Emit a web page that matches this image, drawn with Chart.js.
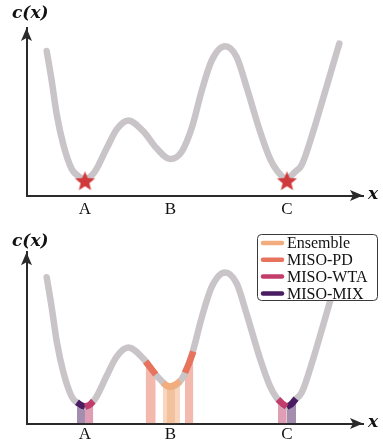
<!DOCTYPE html>
<html>
<head>
<meta charset="utf-8">
<script src="https://cdn.jsdelivr.net/npm/chart.js@4.4.1/dist/chart.umd.min.js"></script>
<style>
  html, body { margin: 0; padding: 0; background: #fff; }
  .panel { position: relative; width: 383px; height: 224px; }
</style>
</head>
<body>
<div class="panel"><canvas id="topChart"></canvas></div>
<div class="panel"><canvas id="bottomChart"></canvas></div>
<script>
// cost landscape c(x) (x: 0..10 along axis, y: 0..10 up the axis)
const CURVE_X = [0.600, 0.749, 0.897, 1.094, 1.343, 1.540, 1.738, 1.940, 2.086, 2.383, 2.681, 3.025,
                 3.471, 3.869, 4.264, 4.612, 4.909, 5.207, 5.504, 5.899, 6.247, 6.544, 6.939, 7.236,
                 7.437, 7.732, 7.979, 8.178, 8.523, 8.820, 9.117, 9.296];
const CURVE_Y = [8.63, 6.85, 4.86, 3.04, 1.59, 1.17, 1.00, 1.21, 1.61, 2.82, 3.95, 4.48,
                 3.83, 2.82, 2.18, 2.62, 4.03, 6.25, 8.06, 8.91, 8.26, 6.45, 3.84, 2.21,
                 1.51, 1.00, 1.41, 1.83, 3.84, 5.84, 7.86, 9.07];

// x tick labels (minima)
const TICK_LABELS = ['A', 'B', 'C'];
const TICK_POS = [1.738, 4.28, 7.74];

// global minima (stars, top panel)
const STAR_X = [1.738, 7.74];
const STAR_Y = [0.83, 0.83];

// methods
const METHODS = ['Ensemble', 'MISO-PD', 'MISO-WTA', 'MISO-MIX'];
const METHOD_COLORS = ['#f2ad7e', '#e8735c', '#c23d6b', '#4a1d62'];

// predicted regions per method: each one is a short stretch of the curve
const ENSEMBLE_REGIONS = [
  [[4.056, 2.40], [4.16, 2.24], [4.264, 2.18], [4.413, 2.28]],
  [[4.175, 2.23], [4.264, 2.18], [4.40, 2.27], [4.562, 2.50]]
];
const PD_REGIONS = [
  [[3.542, 3.66], [3.69, 3.28], [3.84, 2.89]],
  [[4.710, 3.00], [4.83, 3.55], [4.957, 4.25]]
];
const WTA_REGIONS = [
  [[1.738, 1.00], [1.857, 1.08], [1.985, 1.32]],
  [[7.474, 1.44], [7.608, 1.17], [7.732, 1.00]]
];
const MIX_REGIONS = [
  [[1.501, 1.26], [1.620, 1.09], [1.738, 1.00]],
  [[7.732, 1.00], [7.860, 1.12], [8.009, 1.47]]
];
const REGIONS = [ENSEMBLE_REGIONS, PD_REGIONS, WTA_REGIONS, MIX_REGIONS];

const AXIS_COLOR = '#2a2a2a';
const TEXT_COLOR = '#111';
const CURVE_COLOR = '#c9c4c8';

const toPoints = (xs, ys) => xs.map((x, i) => ({ x: x, y: ys[i] }));

const hexToRgba = (hex, a) => {
  const n = parseInt(hex.slice(1), 16);
  return `rgba(${(n >> 16) & 255},${(n >> 8) & 255},${n & 255},${a})`;
};

// filled five-point star for the minima markers
const makeStar = (outer, inner, color) => {
  const c = document.createElement('canvas');
  const s = Math.ceil(outer * 2 + 2);
  c.width = s; c.height = s;
  const g = c.getContext('2d');
  g.translate(s / 2, s / 2);
  g.beginPath();
  for (let i = 0; i < 10; i++) {
    const r = i % 2 === 0 ? outer : inner;
    const a = -Math.PI / 2 + i * Math.PI / 5;
    g.lineTo(r * Math.cos(a), r * Math.sin(a));
  }
  g.closePath();
  g.fillStyle = color;
  g.fill();
  return c;
};

const drawArrow = (ctx, x, y, dir) => {
  const L = 13, W = 5.5, N = 3;
  ctx.beginPath();
  if (dir === 'up') {
    ctx.moveTo(x, y);
    ctx.lineTo(x + W, y + L);
    ctx.lineTo(x, y + L - N);
    ctx.lineTo(x - W, y + L);
  } else {
    ctx.moveTo(x, y);
    ctx.lineTo(x - L, y - W);
    ctx.lineTo(x - L + N, y);
    ctx.lineTo(x - L, y + W);
  }
  ctx.closePath();
  ctx.fill();
};

// arrows, axis names and (optionally) the legend
const decorPlugin = (cfg) => ({
  id: 'decor',
  afterDraw(chart) {
    const { ctx, chartArea: ca } = chart;
    ctx.save();
    ctx.fillStyle = AXIS_COLOR;
    drawArrow(ctx, ca.left, ca.top, 'up');
    drawArrow(ctx, ca.right, ca.bottom, 'right');

    ctx.fillStyle = TEXT_COLOR;
    ctx.font = 'bold italic 17px "DejaVu Serif"';
    ctx.textAlign = 'left';
    ctx.textBaseline = 'middle';
    ctx.fillText('c(x)', 12, cfg.cxY);
    ctx.fillText('x', ca.right + 5, ca.bottom - 1);

    if (cfg.legend) {
      const bx = 257.5, by = 10.5, bw = 120, bh = 66;
      ctx.beginPath();
      ctx.roundRect(bx, by, bw, bh, 4);
      ctx.fillStyle = '#fff';
      ctx.fill();
      ctx.lineWidth = 1;
      ctx.strokeStyle = '#3a3a3a';
      ctx.stroke();
      ctx.font = '16px "Liberation Serif"';
      METHODS.forEach((m, i) => {
        const y = 19 + i * 16.8;
        ctx.beginPath();
        ctx.moveTo(263, y);
        ctx.lineTo(282, y);
        ctx.lineWidth = 4.5;
        ctx.lineCap = 'round';
        ctx.strokeStyle = METHOD_COLORS[i];
        ctx.stroke();
        ctx.fillStyle = TEXT_COLOR;
        ctx.fillText(m, 287, y + 1);
      });
    }
    ctx.restore();
  }
});

Chart.defaults.font.family = "'Liberation Serif', serif";
Chart.defaults.color = TEXT_COLOR;

const buildChart = (id, opts) => {
  const datasets = [{
    data: toPoints(CURVE_X, CURVE_Y),
    borderColor: CURVE_COLOR,
    borderWidth: 6.5,
    borderCapStyle: 'round',
    borderJoinStyle: 'round',
    cubicInterpolationMode: 'monotone',
    pointRadius: 0,
    fill: false,
    clip: false,
    order: 2
  }];

  if (opts.stars) {
    datasets.push({
      data: toPoints(STAR_X, STAR_Y),
      showLine: false,
      pointStyle: makeStar(10.5, 4.6, '#d13a3c'),
      pointRadius: 9,
      clip: false,
      order: 0
    });
  }

  if (opts.regions) {
    REGIONS.forEach((regs, mi) => {
      regs.forEach(r => {
        const pts = r.map(p => ({ x: p[0], y: p[1] }));
        // shaded band down to the axis
        datasets.push({
          data: pts,
          borderWidth: 0,
          backgroundColor: hexToRgba(METHOD_COLORS[mi], 0.5),
          fill: 'origin',
          cubicInterpolationMode: 'monotone',
          pointRadius: 0,
          order: 3
        });
        // coloured stretch of the curve
        datasets.push({
          data: pts,
          borderColor: METHOD_COLORS[mi],
          borderWidth: 6.5,
          borderCapStyle: 'butt',
          fill: false,
          cubicInterpolationMode: 'monotone',
          pointRadius: 0,
          clip: false,
          order: 1
        });
      });
    });
  }

  return new Chart(document.getElementById(id), {
    type: 'line',
    data: { datasets: datasets },
    options: {
      responsive: true,
      maintainAspectRatio: false,
      animation: false,
      events: [],
      layout: { padding: { left: 26.5, right: 20, top: opts.top, bottom: opts.bottom } },
      plugins: { legend: { display: false }, tooltip: { enabled: false } },
      scales: {
        x: {
          type: 'linear',
          min: 0,
          max: 10,
          grid: { display: false, drawTicks: false },
          border: { display: true, color: AXIS_COLOR, width: 2 },
          afterBuildTicks: s => { s.ticks = TICK_POS.map(v => ({ value: v })); },
          ticks: {
            autoSkip: false,
            maxRotation: 0,
            padding: opts.tickPad,
            color: TEXT_COLOR,
            font: { size: 17 },
            callback: (v, i) => TICK_LABELS[i]
          }
        },
        y: {
          min: 0,
          max: opts.yMax,
          grid: { display: false, drawTicks: false },
          border: { display: true, color: AXIS_COLOR, width: 2 },
          ticks: { display: false }
        }
      }
    },
    plugins: [decorPlugin(opts)]
  });
};

buildChart('topChart', { yMax: 10, top: 28, bottom: 0, tickPad: 4, cxY: 14, stars: true });
buildChart('bottomChart', { yMax: 10.1, top: 28.3, bottom: 2, tickPad: 1, cxY: 18, regions: true, legend: true });
</script>
</body>
</html>
